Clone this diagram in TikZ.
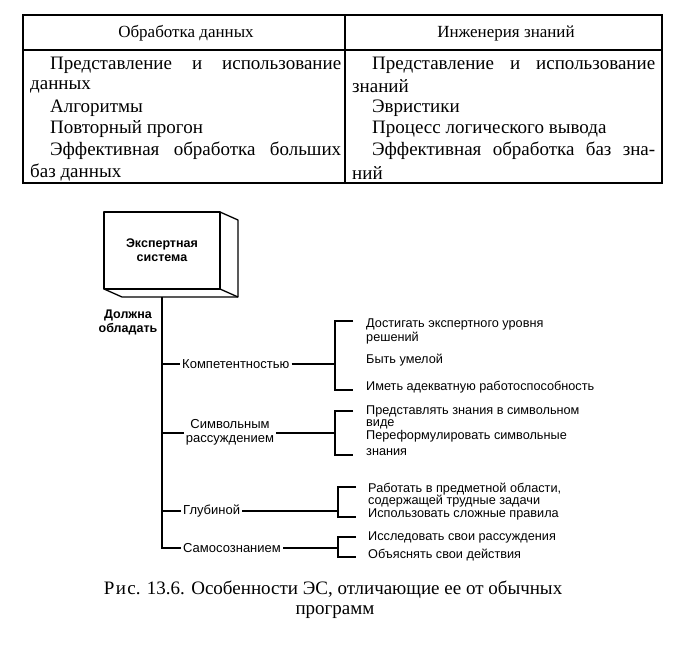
\documentclass[tikz,border=0pt]{standalone}
\usepackage{fontspec}
\setmainfont{Liberation Serif}
\setsansfont{Liberation Sans}
\begin{document}
\begin{tikzpicture}[x=1pt,y=-1pt,
  tbl/.style={line width=1.8pt},
  ln/.style={line width=1.3pt},
  hdr/.style={font=\fontsize{17}{19}\selectfont, inner sep=0pt},
  body/.style={font=\fontsize{19}{21}\selectfont, anchor=west, inner sep=0pt},
  lab/.style={font=\sffamily\fontsize{13}{14.5}\selectfont, inner sep=2pt, align=center},
  item/.style={font=\sffamily\fontsize{12.7}{14}\selectfont, inner sep=0pt, anchor=west},
  bold/.style={font=\sffamily\bfseries\fontsize{12.5}{14}\selectfont, inner sep=0pt, align=center},
  captxt/.style={font=\fontsize{19}{21}\selectfont, inner sep=0pt}]
\useasboundingbox (0,0) rectangle (695,649);
\fill[white] (0,0) rectangle (695,649);
% ---------- table ----------
\coordinate (tl) at (23,15);
\coordinate (br) at (662,183);
\coordinate (hl) at (23,50);
\coordinate (hr) at (662,50);
\coordinate (ct) at (345,15);
\coordinate (cb) at (345,183);
\draw[tbl] (tl) rectangle (br);
\draw[line width=1.4pt] (hl) -- (hr);
\draw[line width=1.4pt] (ct) -- (cb);
\node[hdr] (h1) at (186,33) {Обработка данных};
\node[hdr] (h2) at (506,33) {Инженерия знаний};
% left column
\node[body] (a1) at (50,65) {\makebox[291pt][s]{Представление и использование}};
\node[body] (a2) at (30,86.5) {данных};
\node[body] (a3) at (50,108) {Алгоритмы};
\node[body] (a4) at (50,129.5) {Повторный прогон};
\node[body] (a5) at (50,151) {\makebox[291pt][s]{Эффективная обработка больших}};
\node[body] (a6) at (30,172.5) {баз данных};
% right column
\node[body] (b1) at (372,65) {\makebox[283pt][s]{Представление и использование}};
\node[body] (b2) at (352,86.5) {знаний};
\node[body] (b3) at (372,108) {Эвристики};
\node[body] (b4) at (372,129.5) {Процесс логического вывода};
\node[body] (b5) at (372,151) {\makebox[283pt][s]{Эффективная обработка баз зна-}};
\node[body] (b6) at (352,172.5) {ний};
% ---------- box ----------
\coordinate (f1) at (104,212);
\coordinate (f2) at (220,212);
\coordinate (f3) at (220,289);
\coordinate (f4) at (104,289);
\coordinate (g2) at (238,220);
\coordinate (g3) at (238,297);
\coordinate (g4) at (122,297);
\draw[ln, line join=round] (f1) -- (f2) -- (f3) -- (f4) -- cycle;
\draw[ln, line join=round] (f2) -- (g2) -- (g3) -- (g4) -- (f4);
\draw[ln] (f3) -- (g3);
\node[bold] (es) at (162,250) {Экспертная\\система};
\node[bold] (dolzh) at (128,322.5) {Должна\\обладать};
% ---------- trunk ----------
\coordinate (t0) at (162,297);
\coordinate (j1) at (162,364);
\coordinate (j2) at (162,433);
\coordinate (j3) at (162,511);
\coordinate (t4) at (162,548);
\node[lab, anchor=west] (l1) at (180,364) {Компетентностью};
\node[lab] (l2) at (230,432.5) {Символьным\\рассуждением};
\node[lab, anchor=west] (l3) at (181,511) {Глубиной};
\node[lab, anchor=west] (l4) at (181,548) {Самосознанием};
\draw[ln] (t0) -- (t4) -- (l4.west);
\draw[ln] (j1) -- (l1.west);
\draw[ln] (j2) -- (j2 -| l2.west);
\draw[ln] (j3) -- (l3.west);
% brackets
\coordinate (k1) at (335,364);
\coordinate (k1a) at (335,321);
\coordinate (k1b) at (335,390);
\coordinate (k1c) at (353,321);
\coordinate (k1d) at (353,390);
\draw[ln] (l1.east) -- (k1);
\draw[ln] (k1c) -- (k1a) -- (k1b) -- (k1d);
\coordinate (k2) at (335,433);
\coordinate (k2a) at (335,411);
\coordinate (k2b) at (335,455);
\coordinate (k2c) at (353,411);
\coordinate (k2d) at (353,455);
\draw[ln] (k2 -| l2.east) -- (k2);
\draw[ln] (k2c) -- (k2a) -- (k2b) -- (k2d);
\coordinate (k3) at (338,511);
\coordinate (k3a) at (338,487);
\coordinate (k3b) at (338,517);
\coordinate (k3c) at (356,487);
\coordinate (k3d) at (356,517);
\draw[ln] (l3.east) -- (k3);
\draw[ln] (k3c) -- (k3a) -- (k3b) -- (k3d);
\coordinate (k4) at (338,548);
\coordinate (k4a) at (338,537);
\coordinate (k4b) at (338,557);
\coordinate (k4c) at (356,537);
\coordinate (k4d) at (356,557);
\draw[ln] (l4.east) -- (k4);
\draw[ln] (k4c) -- (k4a) -- (k4b) -- (k4d);
% items
\node[item] (i11) at (366,324) {Достигать экспертного уровня};
\node[item] (i12) at (366,338) {решений};
\node[item] (i13) at (366,360) {Быть умелой};
\node[item] (i14) at (366,387) {Иметь адекватную работоспособность};
\node[item] (i21) at (366,411) {Представлять знания в символьном};
\node[item] (i22) at (366,424) {виде};
\node[item] (i23) at (366,436) {Переформулировать символьные};
\node[item] (i24) at (366,452) {знания};
\node[item] (i31) at (368,489) {Работать в предметной области,};
\node[item] (i32) at (368,501) {содержащей трудные задачи};
\node[item] (i33) at (368,514) {Использовать сложные правила};
\node[item] (i41) at (368,537) {Исследовать свои рассуждения};
\node[item] (i42) at (368,555) {Объяснять свои действия};
% caption
\node[captxt] (c1) at (333,590) {Р\kern1.5pt и\kern1.5pt с. 13.6. Особенности ЭС, отличающие ее от обычных};
\node[captxt] (c2) at (335,612) {программ};
\end{tikzpicture}
\end{document}
